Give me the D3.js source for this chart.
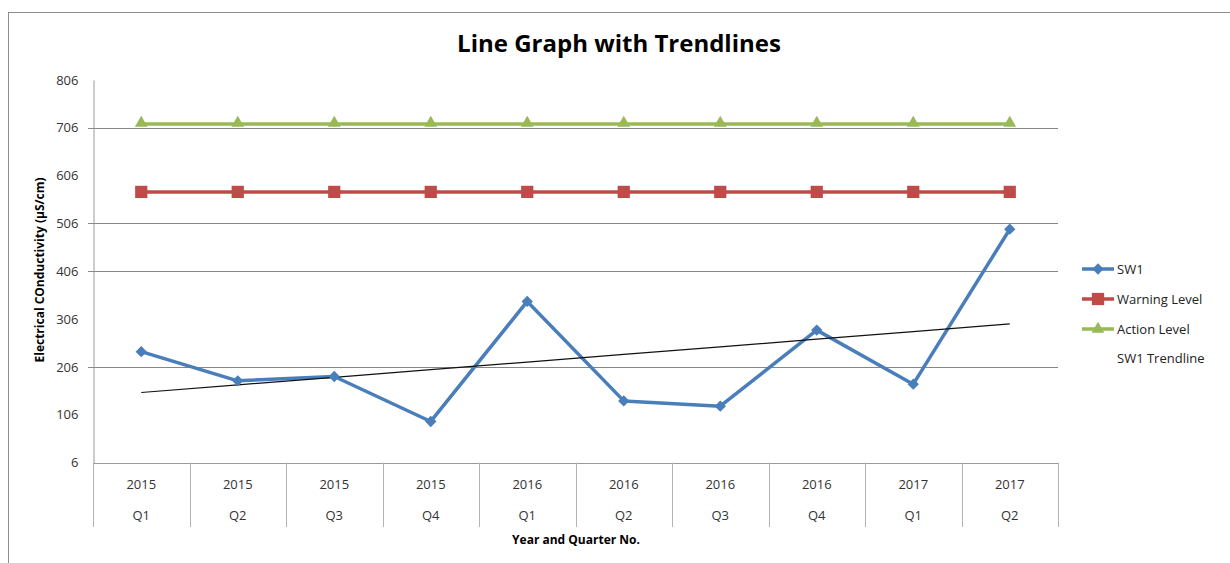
<!DOCTYPE html>
<html>
<head>
<meta charset="utf-8">
<script src="https://cdn.jsdelivr.net/npm/d3@7"></script>
<style>
  body { margin: 0; background: #fff; }
  svg { display: block; }
</style>
</head>
<body>
<div id="chart"></div>
<script>
// Data
const years = ['2015', '2015', '2015', '2015', '2016', '2016', '2016', '2016', '2017', '2017'];
const quarters = ['Q1', 'Q2', 'Q3', 'Q4', 'Q1', 'Q2', 'Q3', 'Q4', 'Q1', 'Q2'];
const sw1 = [238, 177, 186, 92, 343, 135, 124, 283, 170, 494];
const warningLevel = [572, 572, 572, 572, 572, 572, 572, 572, 572, 572];
const actionLevel = [714, 714, 714, 714, 714, 714, 714, 714, 714, 714];
const yTicks = [6, 106, 206, 306, 406, 506, 606, 706, 806];
const gridTicks = [206, 406, 506, 706];

// Visual config
const W = 1230, H = 563;
const PLOT = { left: 93, right: 1058, top: 80, bottom: 462.6 };
const FONT = 'Open Sans, Noto Sans, sans-serif';
const BLUE = '#4a7ebb', RED = '#be4b48', GREEN = '#98b954';

const svg = d3.select('#chart').append('svg')
    .attr('width', W)
    .attr('height', H);

// outer chart border (runs off right/bottom edge)
svg.append('rect')
    .attr('x', 8.5).attr('y', 12.5)
    .attr('width', W + 20).attr('height', H + 20)
    .attr('fill', 'none')
    .attr('stroke', '#8c8c8c');

const idx = d3.range(years.length);
const x = d3.scaleBand().domain(idx).range([PLOT.left, PLOT.right]);
const cx = i => x(i) + x.bandwidth() / 2;
const y = d3.scaleLinear().domain([6, 806]).range([PLOT.bottom, PLOT.top]);

// gridlines
svg.append('g').selectAll('line')
    .data(gridTicks).enter().append('line')
    .attr('x1', PLOT.left - 5).attr('x2', PLOT.right)
    .attr('y1', d => Math.round(y(d)) + 0.5).attr('y2', d => Math.round(y(d)) + 0.5)
    .attr('stroke', '#868686');

// y axis
const yAxis = svg.append('g')
    .attr('transform', `translate(${PLOT.left + 0.5},0)`)
    .call(d3.axisLeft(y).tickValues(yTicks).tickSize(0).tickPadding(15));
yAxis.select('.domain').attr('stroke', '#9a9a9a');
yAxis.selectAll('text')
    .attr('font-family', FONT).attr('font-size', 13).attr('fill', '#333');

// x axis: baseline + category separators
svg.append('line')
    .attr('x1', PLOT.left).attr('x2', PLOT.right)
    .attr('y1', Math.round(PLOT.bottom) + 0.5).attr('y2', Math.round(PLOT.bottom) + 0.5)
    .attr('stroke', '#9a9a9a');
svg.append('g').selectAll('line')
    .data(d3.range(years.length + 1)).enter().append('line')
    .attr('x1', i => Math.round(PLOT.left + i * x.bandwidth()) + 0.5)
    .attr('x2', i => Math.round(PLOT.left + i * x.bandwidth()) + 0.5)
    .attr('y1', PLOT.bottom).attr('y2', 527)
    .attr('stroke', '#b4b4b4');

const xl = svg.append('g')
    .attr('font-family', FONT).attr('font-size', 13).attr('fill', '#333')
    .attr('text-anchor', 'middle');
xl.selectAll('.yr').data(idx).enter().append('text')
    .attr('x', cx).attr('y', 489).text(i => years[i]);
xl.selectAll('.q').data(idx).enter().append('text')
    .attr('x', cx).attr('y', 520).text(i => quarters[i]);

// axis titles
svg.append('text')
    .attr('x', 576).attr('y', 544)
    .attr('text-anchor', 'middle')
    .attr('font-family', FONT).attr('font-size', 12).attr('font-weight', 'bold')
    .text('Year and Quarter No.');
svg.append('text')
    .attr('transform', 'translate(44,270) rotate(-90)')
    .attr('text-anchor', 'middle')
    .attr('font-family', FONT).attr('font-size', 12).attr('font-weight', 'bold')
    .text('Electrical COnductivity (µS/cm)');

// title
svg.append('text')
    .attr('x', 619).attr('y', 52)
    .attr('text-anchor', 'middle')
    .attr('font-family', FONT).attr('font-size', 24).attr('font-weight', 'bold')
    .text('Line Graph with Trendlines');

// trendline (least squares on SW1)
const mx = d3.mean(idx), my = d3.mean(sw1);
const slope = d3.sum(idx, i => (i - mx) * (sw1[i] - my)) / d3.sum(idx, i => (i - mx) ** 2);
const trend = idx.map(i => my + slope * (i - mx));

const line = d3.line().x((d, i) => cx(i)).y(d => y(d));

svg.append('path')
    .attr('d', line(actionLevel))
    .attr('fill', 'none').attr('stroke', GREEN).attr('stroke-width', 3.5);
svg.append('path')
    .attr('d', line(warningLevel))
    .attr('fill', 'none').attr('stroke', RED).attr('stroke-width', 3.5);
svg.append('path')
    .attr('d', line(sw1))
    .attr('fill', 'none').attr('stroke', BLUE).attr('stroke-width', 3.5)
    .attr('stroke-linejoin', 'round');
svg.append('path')
    .attr('d', line(trend))
    .attr('fill', 'none').attr('stroke', '#111').attr('stroke-width', 1.2);

// markers
const tri = d3.symbol().type(d3.symbolTriangle).size(70);
const sq = d3.symbol().type(d3.symbolSquare).size(150);
const dia = d3.symbol().type(d3.symbolSquare).size(64); // rotated 45deg below

svg.append('g').selectAll('path').data(actionLevel).enter().append('path')
    .attr('d', tri).attr('fill', GREEN)
    .attr('transform', (d, i) => `translate(${cx(i)},${y(d) - 1})`);
svg.append('g').selectAll('path').data(warningLevel).enter().append('path')
    .attr('d', sq).attr('fill', RED)
    .attr('transform', (d, i) => `translate(${cx(i)},${y(d)})`);
svg.append('g').selectAll('path').data(sw1).enter().append('path')
    .attr('d', dia).attr('fill', BLUE)
    .attr('transform', (d, i) => `translate(${cx(i)},${y(d)}) rotate(45)`);

// legend
const legendItems = [
    { name: 'SW1', color: BLUE, symbol: dia, rot: 45 },
    { name: 'Warning Level', color: RED, symbol: sq, rot: 0 },
    { name: 'Action Level', color: GREEN, symbol: tri, rot: 0 },
    { name: 'SW1 Trendline', color: null, symbol: null }
];
const legendY = [269, 299, 329, 358];
const lg = svg.append('g');
legendItems.forEach((d, i) => {
    const row = lg.append('g').attr('transform', `translate(1082,${legendY[i]})`);
    if (d.color) {
        row.append('line').attr('x1', 0).attr('x2', 32)
            .attr('stroke', d.color).attr('stroke-width', 3.5);
        row.append('path').attr('d', d.symbol).attr('fill', d.color)
            .attr('transform', `translate(16,0) rotate(${d.rot})`);
    }
    row.append('text')
        .attr('x', 35).attr('y', 5)
        .attr('font-family', FONT).attr('font-size', 13).attr('fill', '#222')
        .text(d.name);
});
</script>
</body>
</html>
